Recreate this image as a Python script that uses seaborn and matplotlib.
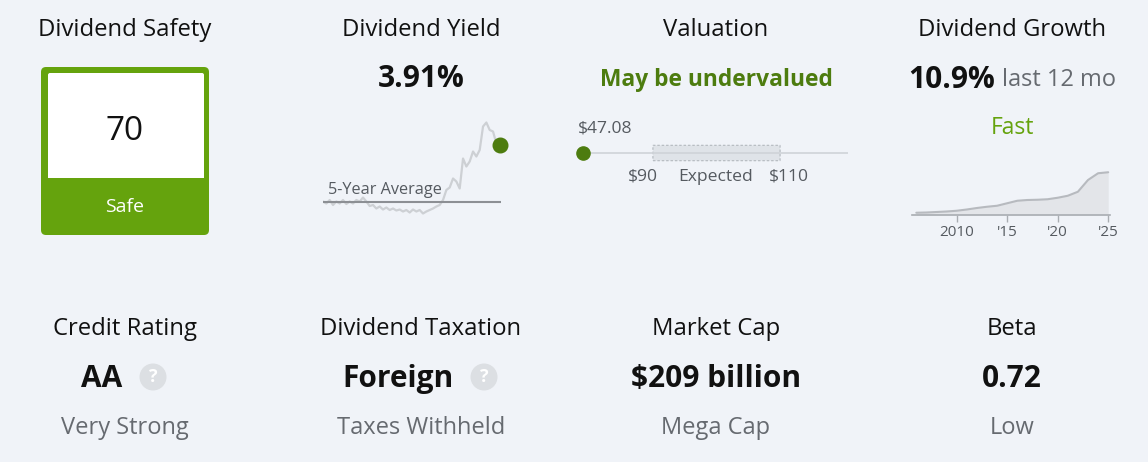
import numpy as np
import pandas as pd
import seaborn as sns
import matplotlib
matplotlib.use("Agg")
import matplotlib.pyplot as plt
from matplotlib.patches import FancyBboxPatch, Circle, Rectangle

# ---------------- data ----------------
safety_score = 70
safety_label = "Safe"

current_yield = 3.91
five_year_avg_yield = 2.77
yield_history = [2.78, 2.74, 2.81, 2.71, 2.78, 2.74, 2.81, 2.73, 2.78, 2.74,
                 2.81, 2.78, 2.86, 2.78, 2.69, 2.71, 2.64, 2.68, 2.62, 2.66,
                 2.61, 2.64, 2.60, 2.62, 2.58, 2.61, 2.56, 2.62, 2.58, 2.61,
                 2.54, 2.58, 2.61, 2.64, 2.68, 2.71, 2.81, 3.01, 3.06, 3.24,
                 3.18, 3.04, 3.64, 3.48, 3.58, 3.78, 3.68, 3.81, 4.28, 4.36,
                 4.21, 4.18, 3.94, 3.91]

price_current = "$47.08"
fair_low = "$90"
fair_high = "$110"
valuation_text = "May be undervalued"

growth_rate = "10.9%"
growth_label = "Fast"
div_years = [2006, 2007, 2008, 2009, 2010, 2011, 2012, 2013, 2014, 2015,
             2016, 2017, 2018, 2019, 2020, 2021, 2022, 2023, 2024, 2025]
div_values = [0.09, 0.10, 0.12, 0.14, 0.17, 0.22, 0.28, 0.33, 0.37, 0.47,
              0.57, 0.60, 0.61, 0.63, 0.69, 0.77, 0.93, 1.40, 1.67, 1.71]
growth_ticks = [2010, 2015, 2020, 2025]
growth_ticklabels = ["2010", "'15", "'20", "'25"]

bottom_titles = ["Credit Rating", "Dividend Taxation", "Market Cap", "Beta"]
bottom_values = ["AA", "Foreign", "$209 billion", "0.72"]
bottom_subs = ["Very Strong", "Taxes Withheld", "Mega Cap", "Low"]
bottom_help = [True, True, False, False]

# ---------------- style ----------------
sns.set_theme(style="white")
plt.rcParams["font.family"] = ["Open Sans", "DejaVu Sans"]

BG = "#f0f3f8"
DARK = "#111111"
GREY = "#666a70"
GREEN_DARK = "#4d7c0f"
GREEN = "#65a30d"

W, H = 1148, 462
fig = plt.figure(figsize=(W / 100, H / 100), dpi=100, facecolor=BG)

def px_axes(x0, y0, x1, y1):
    return fig.add_axes([x0 / W, 1 - y1 / H, (x1 - x0) / W, (y1 - y0) / H])

base = px_axes(0, 0, W, H)
base.set_xlim(0, W)
base.set_ylim(H, 0)
base.axis("off")
base.set_facecolor(BG)

cols = [125, 421, 716, 1012]
title_fs = 17.2
big_fs = 21.5
sub_fs = 17

# top titles
for cx, t in zip(cols, ["Dividend Safety", "Dividend Yield", "Valuation", "Dividend Growth"]):
    base.text(cx, 30, t, ha="center", va="center", fontsize=title_fs, color=DARK)

# ---- Dividend safety box ----
base.add_patch(FancyBboxPatch((41 + 5, 67 + 5), 168 - 10, 168 - 10,
                              boxstyle="round,pad=5", fc=GREEN, ec="none"))
base.add_patch(FancyBboxPatch((48 + 2, 73 + 2), 156 - 4, 105 - 4,
                              boxstyle="round,pad=2", fc="white", ec="none"))
base.add_patch(Rectangle((48, 160), 156, 18, fc="white", ec="none"))
base.text(125, 131, str(safety_score), ha="center", va="center", fontsize=24, color=DARK)
base.text(125, 207, safety_label, ha="center", va="center", fontsize=14, color="white")

# ---- Dividend yield ----
base.text(421, 79, f"{current_yield:.2f}%", ha="center", va="center",
          fontsize=big_fs, color=DARK, fontweight="bold")
ax_y = px_axes(323, 110, 505, 220)
xs = np.arange(len(yield_history))
sns.lineplot(x=xs, y=yield_history, ax=ax_y, color="#cdd0d4", lw=1.6)
ax_y.hlines(five_year_avg_yield, xs[0], xs[-1] + 0.3, color="#8c8f94", lw=1.5)
ax_y.plot([xs[-1]], [current_yield], "o", color=GREEN_DARK, ms=10.5, zorder=5,
          clip_on=False)
ax_y.set_xlim(xs[0], xs[0] + (505 - 323) / ((500 - 323.3) / (len(xs) - 1)))
ax_y.set_ylim(current_yield - 75 * 0.02, current_yield + 35 * 0.02)
ax_y.axis("off")
base.text(328, 190, "5-Year Average", ha="left", va="center", fontsize=11.7, color="#555a60")

# ---- Valuation ----
base.text(716, 80, valuation_text, ha="center", va="center", fontsize=16.4,
          color=GREEN_DARK, fontweight="bold")
ax_v = px_axes(570, 140, 860, 166)
ax_v.set_xlim(570, 860)
ax_v.set_ylim(0, 1)
ax_v.axis("off")
ax_v.hlines(0.5, 583, 848, color="#cfd3d8", lw=1.2)
ax_v.add_patch(FancyBboxPatch((651 + 2, 0.5 - 6 / 26 + 0.08), 131 - 4, 12 / 26 - 0.16,
                              boxstyle="round,pad=0.08", mutation_aspect=26 / 290 * 20,
                              fc="#dfe3e8", ec="#b8bdc3", ls=(0, (2, 1.5)), lw=0.9))
ax_v.plot([583], [0.5], "o", color=GREEN_DARK, ms=9.5, zorder=5, clip_on=False)
val_fs = 12.6
base.text(578, 128, price_current, ha="left", va="center", fontsize=val_fs, color="#555a60")
base.text(643, 177, fair_low, ha="center", va="center", fontsize=val_fs, color="#555a60")
base.text(716, 177, "Expected", ha="center", va="center", fontsize=val_fs, color="#555a60")
base.text(789, 177, fair_high, ha="center", va="center", fontsize=val_fs, color="#555a60")

# ---- Dividend growth ----
base.text(908, 80, growth_rate, ha="left", va="center", fontsize=big_fs,
          color=DARK, fontweight="bold")
base.text(1002, 80, "last 12 mo", ha="left", va="center", fontsize=17, color=GREY)
base.text(1012, 128, growth_label, ha="center", va="center", fontsize=16.5, color=GREEN)

ax_g = px_axes(912, 160, 1110, 215)
ax_g.fill_between(div_years, div_values, 0, color="#e3e5e9", lw=0)
sns.lineplot(x=div_years, y=div_values, ax=ax_g, color="#b7babf", lw=1.5)
ax_g.set_xlim(2010 + (912 - 956.7) / 10.1, 2010 + (1110 - 956.7) / 10.1)
ax_g.set_ylim(0, 55 * 0.04)
ax_g.set_facecolor("none")
for s in ["top", "right", "left"]:
    ax_g.spines[s].set_visible(False)
ax_g.spines["bottom"].set_color("#a9adb2")
ax_g.spines["bottom"].set_linewidth(1.2)
ax_g.set_yticks([])
ax_g.set_xticks(growth_ticks)
ax_g.set_xticklabels(growth_ticklabels)
ax_g.tick_params(axis="x", bottom=True, length=5, width=1, color="#a9adb2",
                 labelsize=11, labelcolor="#555a60", pad=2)
ax_g.set_xlabel("")
ax_g.set_ylabel("")

# ---- bottom row ----
for cx, t, v, s, hlp in zip(cols, bottom_titles, bottom_values, bottom_subs, bottom_help):
    base.text(cx, 329, t, ha="center", va="center", fontsize=title_fs, color=DARK)
    vx = cx - 23 if hlp else cx
    base.text(vx, 379, v, ha="center", va="center", fontsize=big_fs,
              color=DARK, fontweight="bold")
    base.text(cx, 428, s, ha="center", va="center", fontsize=sub_fs, color=GREY)

for qx in [153, 484]:
    base.add_patch(Circle((qx, 377), 13.5, fc="#dcdfe3", ec="none"))
    base.text(qx, 377.5, "?", ha="center", va="center", fontsize=13,
              color="white", fontweight="bold")

fig.savefig("out.png", dpi=100, facecolor=BG)
